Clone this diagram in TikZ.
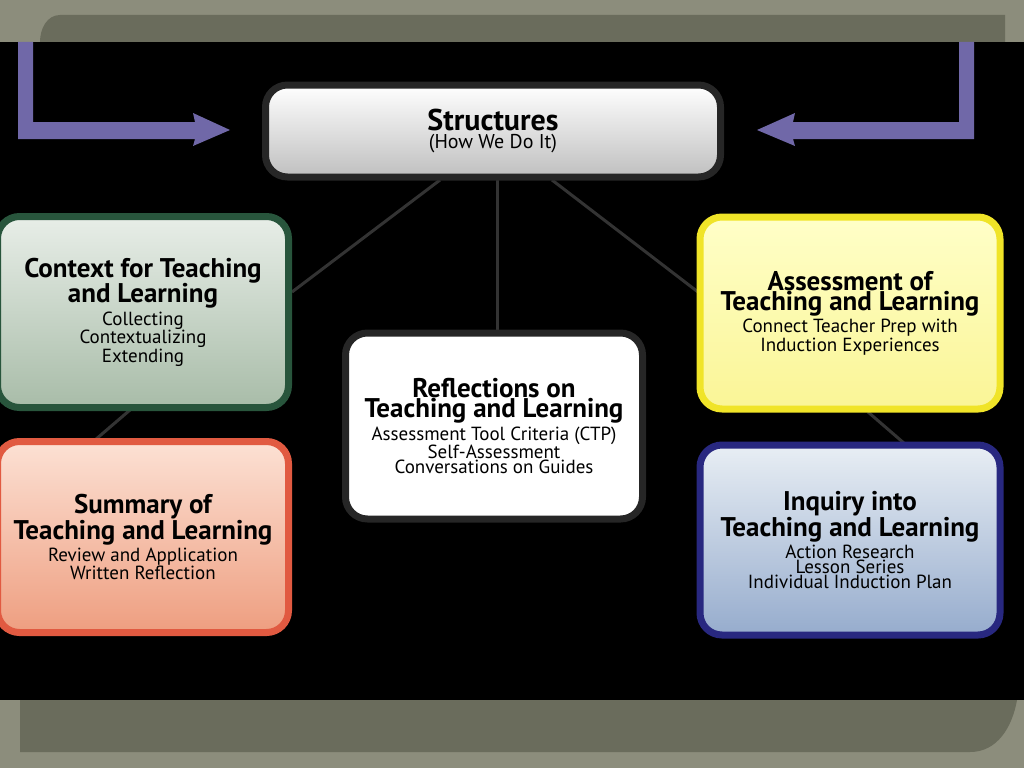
\documentclass[tikz,border=0pt]{standalone}
\usepackage{fontspec}
\setmainfont{PT Sans}
\definecolor{frameout}{HTML}{8C8D7C}
\definecolor{framein}{HTML}{6A6C5C}
\definecolor{arrowpurple}{HTML}{7068A8}
\definecolor{linkgray}{HTML}{333333}
\definecolor{ctxdraw}{RGB}{40,85,60}
\definecolor{ctxtop}{RGB}{232,238,232}
\definecolor{ctxbot}{RGB}{168,188,168}
\definecolor{sumdraw}{RGB}{225,90,65}
\definecolor{sumtop}{RGB}{252,225,212}
\definecolor{sumbot}{RGB}{238,158,128}
\definecolor{asmdraw}{RGB}{240,228,40}
\definecolor{asmtop}{RGB}{255,255,200}
\definecolor{asmbot}{RGB}{250,245,150}
\definecolor{inqdraw}{RGB}{40,40,128}
\definecolor{inqtop}{RGB}{232,238,244}
\definecolor{inqbot}{RGB}{150,172,205}
\newcommand\hdfont{\fontsize{27}{31}\selectfont\bfseries}
\newcommand\bdfont{\fontsize{19}{26}\selectfont\mdseries}
\tikzset{
  box/.style={draw, line width=7pt, rounded corners=22pt, align=center, inner sep=0pt},
  link/.style={linkgray, line width=3pt}
}
\begin{document}
\begin{tikzpicture}[x=1pt,y=-1pt]
  \useasboundingbox (0,0) rectangle (1024,768);
  % frame
  \fill[frameout] (0,0) rectangle (1024,768);
  \fill[framein] (60,15) -- (1005,15) -- (1005,42) -- (40,42) to[out=90,in=180] (60,15) -- cycle;
  \fill[framein] (20,700) -- (1017,700) to[out=-100,in=0] (970,752) -- (20,752) -- cycle;
  \fill[black] (0,42) rectangle (1024,700);
  % links
  \draw[link] (440,180) -- (292,292);
  \draw[link] (497,180) -- (497,332);
  \draw[link] (552,180) -- (698,292);
  \draw[link] (130,410) -- (95,440);
  \draw[link] (868,412) -- (905,444);
  % purple feedback arrows
  \fill[arrowpurple] (18,42) -- (33,42) -- (33,122) -- (195,122) -- (193,113) -- (230,130)
    -- (193,146) -- (195,139) -- (18,139) -- cycle;
  \fill[arrowpurple] (974,42) -- (959,42) -- (959,122) -- (793,122) -- (795,113) -- (757,130)
    -- (795,146) -- (793,139) -- (974,139) -- cycle;
  % boxes
  \node[box, draw=black!85, top color=white, bottom color=black!25,
        minimum width=455pt, minimum height=92pt] (st) at (493,131)
    {\fontsize{30}{32}\selectfont\bfseries Structures\\[2pt]\fontsize{20}{22}\selectfont\mdseries (How We Do It)};
  \node[box, draw=ctxdraw, top color=ctxtop, bottom color=ctxbot,
        minimum width=291pt, minimum height=191pt] (ctx) at (143,312)
    {\hdfont Context for Teaching\\\hdfont and Learning\\[2pt]\bdfont Collecting\\\bdfont Contextualizing\\\bdfont Extending};
  \node[box, draw=sumdraw, top color=sumtop, bottom color=sumbot,
        minimum width=291pt, minimum height=191pt] (sum) at (143,537)
    {\hdfont Summary of\\\hdfont Teaching and Learning\\[2pt]\bdfont Review and Application\\\bdfont Written Reflection};
  \node[box, draw=black!85, fill=white,
        minimum width=297pt, minimum height=186pt] (refl) at (494,426)
    {\hdfont Reflections on\\\hdfont Teaching and Learning\\[2pt]\bdfont Assessment Tool Criteria (CTP)\\\bdfont Self-Assessment\\\bdfont Conversations on Guides};
  \node[box, draw=asmdraw, top color=asmtop, bottom color=asmbot,
        minimum width=300pt, minimum height=192pt] (asm) at (850,313)
    {\hdfont Assessment of\\\hdfont Teaching and Learning\\[2pt]\bdfont Connect Teacher Prep with\\\bdfont Induction Experiences};
  \node[box, draw=inqdraw, top color=inqtop, bottom color=inqbot,
        minimum width=300pt, minimum height=190pt] (inq) at (850,540)
    {\hdfont Inquiry into\\\hdfont Teaching and Learning\\[2pt]\bdfont Action Research\\\bdfont Lesson Series\\\bdfont Individual Induction Plan};
\end{tikzpicture}
\end{document}
